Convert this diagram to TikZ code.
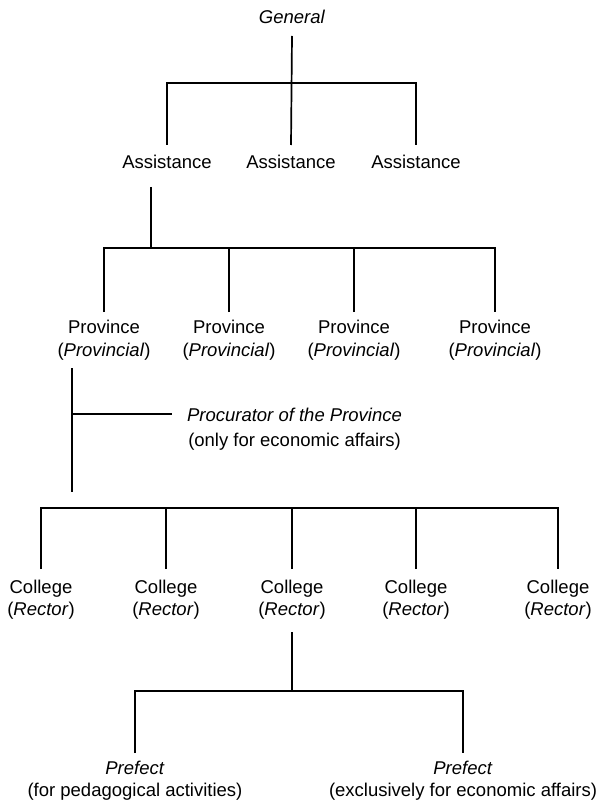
\documentclass[tikz,border=0pt]{standalone}
\usepackage{fontspec}
\setmainfont{Liberation Sans}
\usetikzlibrary{calc}
\begin{document}
\begin{tikzpicture}[x=1pt,y=-1pt,
  lbl/.style={inner sep=0pt, outer sep=0pt, align=center, anchor=base,
    font=\fontsize{18.5}{22.5}\selectfont},
  conn/.style={line width=1.7pt, line cap=butt, line join=miter}]
\useasboundingbox (0,0) rectangle (604,802);

% ---- labels (base anchor = baseline of the last line) ----
\node[lbl] (gen) at (292,23.6) {\textit{General}};

\node[lbl] (a1) at (167,168.6) {Assistance};
\node[lbl] (a2) at (291,168.6) {Assistance};
\node[lbl] (a3) at (416,168.6) {Assistance};

\node[lbl] (p1) at (104,356.1) {Province\\(\textit{Provincial})};
\node[lbl] (p2) at (229,356.1) {Province\\(\textit{Provincial})};
\node[lbl] (p3) at (354,356.1) {Province\\(\textit{Provincial})};
\node[lbl] (p4) at (495,356.1) {Province\\(\textit{Provincial})};

\node[lbl, font=\fontsize{18.5}{25}\selectfont] (proc) at (294.5,446.6)
  {\textit{Procurator of the Province}\\(only for economic affairs)};

\node[lbl, font=\fontsize{18.5}{21.5}\selectfont] (c1) at (41,615.1)  {College\\(\textit{Rector})};
\node[lbl, font=\fontsize{18.5}{21.5}\selectfont] (c2) at (166,615.1) {College\\(\textit{Rector})};
\node[lbl, font=\fontsize{18.5}{21.5}\selectfont] (c3) at (292,615.1) {College\\(\textit{Rector})};
\node[lbl, font=\fontsize{18.5}{21.5}\selectfont] (c4) at (416,615.1) {College\\(\textit{Rector})};
\node[lbl, font=\fontsize{18.5}{21.5}\selectfont] (c5) at (558,615.1) {College\\(\textit{Rector})};

\node[lbl, font=\fontsize{18.5}{21.5}\selectfont] (f1) at (135,796.1) {\textit{Prefect}\\(for pedagogical activities)};
\node[lbl, font=\fontsize{18.5}{21.5}\selectfont] (f2) at (463,796.1) {\textit{Prefect}\\(exclusively for economic affairs)};

% ---- bus junctions ----
\coordinate (j1) at (292,83);
\coordinate (j2) at (151,248);
\coordinate (br) at (72,414);
\coordinate (pend) at (72,492);
\coordinate (j3) at (292,508);
\coordinate (j4) at (292,691);

% General -> Assistances
\draw[conn] ([yshift=-12.4pt]gen.base) -- ([yshift=23.6pt]a2.base);
\draw[conn] ([yshift=23.6pt]a1.base) |- (j1) -| ([yshift=23.6pt]a3.base);

% Assistance -> Provinces
\draw[conn] ([xshift=-16pt,yshift=-18.4pt]a1.base) -- (j2);
\draw[conn] ([yshift=44.1pt]p1.base) |- (j2) -| ([yshift=44.1pt]p4.base);
\draw[conn] ([yshift=44.1pt]p2.base) -- (p2 |- j2);
\draw[conn] ([yshift=44.1pt]p3.base) -- (p3 |- j2);

% Province -> Procurator, and the line down towards the colleges
\draw[conn] ([xshift=-32pt,yshift=-11.9pt]p1.base) -- (pend);
\draw[conn] (br) -- ($(br -| proc.west)+(-15,0)$);

% College bus
\draw[conn] ([yshift=46.1pt]c1.base) |- (j3) -| ([yshift=46.1pt]c5.base);
\draw[conn] ([yshift=46.1pt]c2.base) -- (c2 |- j3);
\draw[conn] ([yshift=46.1pt]c3.base) -- (c3 |- j3);
\draw[conn] ([yshift=46.1pt]c4.base) -- (c4 |- j3);

% College -> Prefects
\draw[conn] ([yshift=-16.9pt]c3.base) -- (j4);
\draw[conn] ([yshift=43.1pt]f1.base) |- (j4) -| ([yshift=43.1pt]f2.base);
\end{tikzpicture}
\end{document}
